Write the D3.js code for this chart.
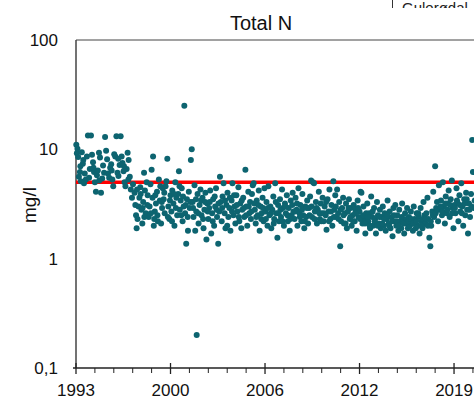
<!DOCTYPE html>
<html>
<head>
<meta charset="utf-8">
<script src="https://cdn.jsdelivr.net/npm/d3@7"></script>
<style>
  body { margin: 0; background: #fff; }
  svg { display: block; font-family: "Liberation Sans", Arial, sans-serif; }
</style>
</head>
<body>
<svg id="chart" width="474" height="399"></svg>
<script>
// data: [decimal year, mg/l]
const totalN = [
  [1993.02,11],[1993.06,9.2],[1993.1,10.1],[1993.15,8.5],[1993.2,5.6],[1993.27,6.2],[1993.33,5.1],[1993.4,9.4],
  [1993.47,7.4],[1993.55,4.9],[1993.6,6.0],[1993.68,5.3],[1993.75,8.6],[1993.82,13.4],[1993.9,5.5],[1993.95,6.6],
  [1994.03,13.4],[1994.1,8.9],[1994.17,7.6],[1994.24,6.2],[1994.3,5.0],[1994.37,4.1],[1994.44,5.8],[1994.5,6.4],
  [1994.58,9.3],[1994.65,8.4],[1994.72,4.0],[1994.8,5.4],[1994.86,7.1],[1994.93,6.1],
  [1995.0,13.0],[1995.07,9.7],[1995.14,8.1],[1995.2,6.0],[1995.28,5.5],[1995.35,6.8],[1995.42,7.3],[1995.5,5.3],
  [1995.56,4.6],[1995.63,9.0],[1995.7,8.6],[1995.78,13.2],[1995.85,6.1],[1995.92,5.7],
  [1996.0,7.2],[1996.07,13.2],[1996.14,8.6],[1996.2,7.5],[1996.27,6.3],[1996.34,5.0],[1996.4,4.6],[1996.48,6.6],
  [1996.55,9.3],[1996.62,8.0],[1996.7,5.6],[1996.77,4.3],[1996.85,3.6],[1996.92,4.8],
  [1997.03,4.0],[1997.08,3.1],[1997.13,2.5],[1997.17,1.9],[1997.23,2.3],[1997.3,3.0],[1997.36,3.6],[1997.42,4.5],
  [1997.5,2.8],[1997.56,2.1],[1997.62,3.3],[1997.68,6.1],[1997.74,4.2],[1997.8,2.6],[1997.86,5.0],[1997.93,3.8],
  [1998.0,2.4],[1998.06,3.0],[1998.12,4.8],[1998.2,6.5],[1998.26,3.6],[1998.3,8.6],[1998.35,2.0],[1998.42,2.7],
  [1998.5,3.2],[1998.57,4.1],[1998.63,2.2],[1998.7,5.3],[1998.77,3.4],[1998.85,2.1],[1998.92,2.9],[1998.97,4.4],
  [1999.03,3.5],[1999.1,2.6],[1999.16,4.6],[1999.22,5.1],[1999.28,8.2],[1999.35,3.0],[1999.42,2.3],[1999.5,3.8],
  [1999.56,2.7],[1999.62,4.2],[1999.7,3.2],[1999.77,2.0],[1999.83,5.0],[1999.9,3.6],[1999.96,2.5],
  [2000.03,3.9],[2000.08,6.3],[2000.14,2.8],[2000.2,3.4],[2000.27,4.4],[2000.33,2.2],[2000.4,3.0],[2000.45,25],
  [2000.5,2.6],[2000.58,1.37],[2000.63,3.5],[2000.7,1.8],[2000.76,4.1],[2000.82,2.9],[2000.9,8.0],[2000.96,10.0],
  [2001.02,3.3],[2001.08,2.4],[2001.15,4.7],[2001.2,1.8],[2001.27,2.7],[2001.3,0.2],[2001.36,3.9],[2001.43,2.1],
  [2001.5,3.1],[2001.56,4.3],[2001.63,2.5],[2001.7,3.6],[2001.77,1.9],[2001.83,2.8],[2001.9,4.0],[2001.97,1.5],
  [2002.03,3.2],[2002.1,2.3],[2002.16,2.9],[2002.23,4.2],[2002.3,1.7],[2002.36,2.6],[2002.43,3.5],[2002.5,2.0],
  [2002.57,3.0],[2002.63,4.4],[2002.7,2.4],[2002.78,1.37],[2002.85,2.7],[2002.9,5.6],[2002.96,3.3],
  [2003.02,2.2],[2003.08,3.7],[2003.15,4.9],[2003.22,2.6],[2003.28,1.9],[2003.35,3.1],[2003.42,4.0],[2003.48,2.4],
  [2003.55,2.9],[2003.62,1.8],[2003.7,3.4],[2003.76,4.9],[2003.83,2.5],[2003.9,3.0],[2003.96,2.1],
  [2004.03,3.8],[2004.1,2.7],[2004.17,4.5],[2004.23,2.2],[2004.3,3.2],[2004.37,1.9],[2004.43,2.8],[2004.5,3.6],
  [2004.57,2.4],[2004.65,6.5],[2004.72,3.0],[2004.78,2.0],[2004.85,4.1],[2004.92,2.6],[2004.97,3.3],
  [2005.03,2.3],[2005.1,3.9],[2005.16,4.7],[2005.22,4.9],[2005.3,2.8],[2005.36,2.1],[2005.43,3.4],[2005.5,2.5],
  [2005.57,4.2],[2005.63,1.8],[2005.7,3.0],[2005.77,2.6],[2005.83,3.6],[2005.9,2.2],[2005.96,4.4],
  [2006.03,2.7],[2006.1,3.3],[2006.17,2.0],[2006.23,4.6],[2006.3,2.5],[2006.37,3.0],[2006.43,1.9],[2006.5,2.8],
  [2006.57,3.7],[2006.63,2.3],[2006.7,4.9],[2006.77,2.6],[2006.85,1.55],[2006.9,3.1],[2006.96,2.2],
  [2007.03,3.5],[2007.1,2.4],[2007.17,4.3],[2007.23,2.9],[2007.3,2.0],[2007.37,3.2],[2007.43,2.6],[2007.5,3.8],
  [2007.57,2.2],[2007.63,2.9],[2007.7,1.8],[2007.77,3.4],[2007.83,2.5],[2007.9,4.0],[2007.96,2.7],
  [2008.03,2.3],[2008.1,3.6],[2008.17,2.8],[2008.23,2.0],[2008.3,4.4],[2008.37,2.6],[2008.43,3.1],[2008.5,2.2],
  [2008.57,3.9],[2008.63,2.5],[2008.7,1.9],[2008.77,3.0],[2008.83,2.4],[2008.9,3.4],[2008.96,2.1],
  [2009.03,2.9],[2009.1,3.7],[2009.17,5.2],[2009.23,2.4],[2009.3,5.0],[2009.37,4.9],[2009.43,2.7],[2009.5,3.3],
  [2009.57,2.1],[2009.63,2.8],[2009.7,4.1],[2009.77,2.3],[2009.83,3.2],[2009.9,2.6],[2009.96,3.6],
  [2010.03,2.2],[2010.1,3.0],[2010.17,2.5],[2010.23,1.84],[2010.3,3.5],[2010.37,2.7],[2010.43,4.3],[2010.5,2.3],
  [2010.57,3.1],[2010.63,2.0],[2010.7,5.1],[2010.77,2.8],[2010.83,3.8],[2010.9,2.4],[2010.96,4.3],
  [2011.03,2.6],[2011.1,3.3],[2011.17,1.3],[2011.23,2.2],[2011.3,2.9],[2011.37,3.6],[2011.43,2.1],[2011.5,2.6],
  [2011.57,3.2],[2011.63,1.9],[2011.7,2.7],[2011.77,3.5],[2011.83,2.3],[2011.9,2.9],[2011.96,2.0],
  [2012.03,2.5],[2012.1,3.1],[2012.17,2.2],[2012.23,2.8],[2012.3,1.8],[2012.37,3.4],[2012.43,2.4],[2012.5,2.7],
  [2012.57,4.1],[2012.63,4.0],[2012.7,2.1],[2012.77,3.0],[2012.83,2.3],[2012.9,1.7],[2012.96,2.6],
  [2013.03,3.2],[2013.1,2.2],[2013.17,2.6],[2013.23,1.9],[2013.3,3.7],[2013.37,2.4],[2013.43,2.0],[2013.5,2.9],
  [2013.57,2.3],[2013.63,1.7],[2013.7,3.3],[2013.77,2.5],[2013.83,2.1],[2013.9,2.8],[2013.96,1.9],
  [2014.03,2.4],[2014.1,3.0],[2014.17,2.0],[2014.23,2.6],[2014.3,1.8],[2014.37,2.3],[2014.43,3.4],[2014.5,2.1],
  [2014.57,2.7],[2014.63,1.9],[2014.7,2.4],[2014.77,1.6],[2014.83,2.9],[2014.9,2.2],[2014.96,3.1],
  [2015.03,2.0],[2015.1,2.5],[2015.17,1.8],[2015.23,2.8],[2015.3,2.2],[2015.37,1.9],[2015.43,3.2],[2015.5,2.3],
  [2015.57,1.7],[2015.63,2.6],[2015.7,2.1],[2015.77,2.9],[2015.83,1.9],[2015.9,2.4],[2015.96,2.0],
  [2016.03,2.7],[2016.1,2.1],[2016.17,1.8],[2016.23,3.0],[2016.3,2.3],[2016.37,1.9],[2016.43,2.6],[2016.5,2.0],
  [2016.57,2.4],[2016.63,1.7],[2016.7,2.9],[2016.77,2.2],[2016.83,1.9],[2016.9,3.3],[2016.96,2.5],
  [2017.03,2.1],[2017.1,2.6],[2017.17,3.6],[2017.23,2.3],[2017.3,1.55],[2017.37,1.3],[2017.43,2.0],[2017.5,2.7],
  [2017.57,4.1],[2017.63,2.4],[2017.7,7.0],[2017.77,2.9],[2017.83,3.3],[2017.9,2.2],[2017.96,4.7],
  [2018.03,2.8],[2018.1,3.4],[2018.17,2.5],[2018.23,5.0],[2018.3,3.0],[2018.37,2.1],[2018.43,3.7],[2018.5,2.6],
  [2018.57,3.2],[2018.63,4.2],[2018.7,2.4],[2018.77,3.5],[2018.85,5.2],[2018.9,2.9],[2018.96,1.9],
  [2019.03,3.1],[2019.1,2.6],[2019.17,4.4],[2019.23,3.3],[2019.3,2.2],[2019.37,3.8],[2019.43,2.7],[2019.5,4.9],
  [2019.57,3.0],[2019.63,2.0],[2019.7,3.5],[2019.77,2.5],[2019.83,4.0],[2019.9,2.8],[2019.96,1.7],
  [2020.03,3.2],[2020.1,2.4],[2020.17,3.9],[2020.25,12.2],[2020.3,6.2],[2020.36,2.9],[2020.42,3.4],
  // extra samples in the dense middle band
  [1993.3,7.0],[1993.5,8.0],[1994.2,6.8],[1994.6,5.2],[1995.45,6.4],[1995.9,8.2],[1996.3,7.0],[1996.6,5.3],
  [1997.45,3.9],[1997.7,2.4],[1997.9,3.1],[1997.2,4.3],[1997.58,2.9],
  [1998.15,2.6],[1998.45,3.8],[1998.6,2.5],[1998.8,4.6],[1998.9,3.3],[1998.38,2.3],
  [1999.07,4.0],[1999.32,2.4],[1999.46,3.4],[1999.6,2.2],[1999.75,3.9],[1999.87,2.9],
  [2000.12,4.6],[2000.24,2.5],[2000.36,3.7],[2000.55,3.1],[2000.68,2.4],[2000.86,3.3],
  [2001.05,2.9],[2001.25,3.5],[2001.4,2.6],[2001.6,3.4],[2001.74,2.3],[2001.88,3.3],
  [2002.06,2.7],[2002.2,3.3],[2002.4,2.2],[2002.54,3.7],[2002.67,2.8],[2002.8,3.2],
  [2003.05,2.9],[2003.25,3.4],[2003.4,2.0],[2003.58,3.6],[2003.73,2.7],[2003.87,3.8],
  [2004.06,3.1],[2004.2,2.4],[2004.4,3.4],[2004.55,2.9],[2004.7,2.5],[2004.88,3.0],
  [2005.06,2.7],[2005.26,3.2],[2005.4,2.4],[2005.54,3.1],[2005.74,2.3],[2005.87,2.9],
  [2006.06,2.3],[2006.2,2.9],[2006.4,2.6],[2006.6,2.1],[2006.74,3.3],[2006.93,2.6],
  [2007.06,2.8],[2007.2,2.2],[2007.4,3.0],[2007.54,2.5],[2007.74,2.3],[2007.87,3.1],
  [2008.06,2.7],[2008.2,3.2],[2008.4,2.4],[2008.54,2.8],[2008.74,2.2],[2008.87,2.9],
  [2009.06,2.5],[2009.2,3.0],[2009.4,2.3],[2009.54,2.9],[2009.74,2.6],[2009.87,2.2],
  [2010.06,2.6],[2010.2,3.3],[2010.4,2.2],[2010.54,2.7],[2010.74,2.4],[2010.87,3.0],
  [2011.06,2.3],[2011.2,2.8],[2011.4,2.5],[2011.54,2.1],[2011.74,2.9],[2011.87,2.4],
  [2012.06,2.2],[2012.2,2.6],[2012.4,2.9],[2012.54,2.3],[2012.74,2.5],[2012.87,2.1],
  [2013.06,2.4],[2013.2,2.0],[2013.4,2.7],[2013.54,2.2],[2013.74,2.0],[2013.87,2.4],
  [2014.06,2.1],[2014.2,2.3],[2014.4,2.5],[2014.54,2.0],[2014.74,2.2],[2014.87,2.5],
  [2015.06,2.2],[2015.2,2.0],[2015.4,2.4],[2015.54,2.1],[2015.74,2.3],[2015.87,2.2],
  [2016.06,2.3],[2016.2,2.1],[2016.4,2.2],[2016.54,2.6],[2016.74,2.0],[2016.87,2.3],
  [2017.06,2.3],[2017.2,2.0],[2017.4,2.2],[2017.54,2.5],[2017.74,2.6],[2017.87,2.8],
  [2018.06,3.0],[2018.2,2.7],[2018.4,3.2],[2018.54,2.8],[2018.74,3.1],[2018.87,2.6],
  [2019.06,2.9],[2019.2,3.4],[2019.4,3.1],[2019.54,2.6],[2019.74,3.2],[2019.87,3.5],
  [2020.06,2.8],[2020.2,3.0]
];

const limit = 5;                       // red reference line
const yTicks = [0.1, 1, 10, 100];
const yTickLabels = ["0,1", "1", "10", "100"];
const xTicks = [1993, 1999.5, 2006, 2012.5, 2019];
const xTickLabels = ["1993", "2000", "2006", "2012", "2019"];

const svg = d3.select("#chart");
const pLeft = 76, pTop = 40, pBottom = 368, pRight = 490;

const x = d3.scaleLinear().domain([1993, 2022]).range([pLeft, pLeft + 29 * 14.54]);
const y = d3.scaleLog().domain([0.1, 100]).range([pBottom, pTop]);

// title + cut-off legend in corner
svg.append("text")
  .attr("x", 261).attr("y", 30)
  .attr("text-anchor", "middle")
  .style("font-size", "20px")
  .style("fill", "#111")
  .text("Total N");

svg.append("clipPath").attr("id", "legclip")
  .append("rect").attr("x", 380).attr("y", 0).attr("width", 100).attr("height", 8);
const leg = svg.append("g").attr("clip-path", "url(#legclip)");
leg.append("line").attr("x1", 392.5).attr("x2", 392.5).attr("y1", 0).attr("y2", 8)
  .style("stroke", "#333");
leg.append("text").attr("x", 402).attr("y", 13)
  .style("font-size", "15px").style("fill", "#222")
  .text("Gulerødal");

// frame
svg.append("line").attr("x1", pLeft).attr("x2", pRight).attr("y1", pTop).attr("y2", pTop)
  .style("stroke", "#444");
svg.append("line").attr("x1", pLeft).attr("x2", pLeft).attr("y1", pTop).attr("y2", pBottom)
  .style("stroke", "#444").style("stroke-width", 1.5);

// x axis
const xAxis = svg.append("g").attr("transform", "translate(0," + pBottom + ")");
xAxis.append("line").attr("x1", pLeft - 3).attr("x2", pRight).style("stroke", "#222").style("stroke-width", 1.5);

let minor = [];
for (let i = 0; i < xTicks.length; i++) {
  for (let k = 1; k < 5; k++) minor.push(xTicks[i] + k * 1.3);
}
xAxis.selectAll("line.minor")
  .data(minor)
  .join("line")
  .attr("class", "minor")
  .attr("x1", d => x(d)).attr("x2", d => x(d))
  .attr("y1", 0).attr("y2", 5)
  .style("stroke", "#222");

xAxis.selectAll("line.major")
  .data(xTicks)
  .join("line")
  .attr("class", "major")
  .attr("x1", d => x(d)).attr("x2", d => x(d))
  .attr("y1", -5).attr("y2", 6)
  .style("stroke", "#222").style("stroke-width", 1.3);

xAxis.selectAll("text")
  .data(xTicks)
  .join("text")
  .attr("x", d => x(d))
  .attr("y", 28)
  .attr("text-anchor", "middle")
  .style("font-size", "17px")
  .style("fill", "#111")
  .text((d, i) => xTickLabels[i]);

// y labels
svg.selectAll("text.ylab")
  .data(yTicks)
  .join("text")
  .attr("class", "ylab")
  .attr("x", 58)
  .attr("y", d => y(d) + 6)
  .attr("text-anchor", "end")
  .style("font-size", "17px")
  .style("fill", "#111")
  .text((d, i) => yTickLabels[i]);

svg.append("text")
  .attr("transform", "translate(36,205) rotate(-90)")
  .attr("text-anchor", "middle")
  .style("font-size", "19px")
  .style("fill", "#111")
  .text("mg/l");

// limit line
svg.append("line")
  .attr("x1", pLeft).attr("x2", pRight)
  .attr("y1", y(limit)).attr("y2", y(limit))
  .style("stroke", "#ff0000")
  .style("stroke-width", 3.5);

// points
svg.append("g")
  .selectAll("circle")
  .data(totalN)
  .join("circle")
  .attr("cx", d => x(d[0]))
  .attr("cy", d => y(d[1]))
  .attr("r", 3)
  .style("fill", "#0d6470");
</script>
</body>
</html>
